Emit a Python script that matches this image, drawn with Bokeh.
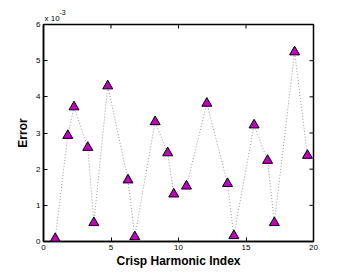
from bokeh.plotting import figure
from bokeh.models import LinearAxis, Range1d, FixedTicker, Title
from bokeh.embed import file_html
from bokeh.resources import INLINE

# Data (Error in units of 1e-3)
harmonic_index = [0.87, 1.8, 2.26, 3.28, 3.73, 4.76, 6.26, 6.76, 8.27, 9.2,
                  9.65, 10.59, 12.1, 13.63, 14.1, 15.6, 16.6, 17.1, 18.6, 19.55]
error_e3 = [0.08, 2.93, 3.72, 2.6, 0.52, 4.3, 1.7, 0.13, 3.31, 2.45,
            1.31, 1.53, 3.82, 1.6, 0.16, 3.22, 2.24, 0.52, 5.24, 2.38]
x_ticks = [0, 5, 10, 15, 20]
y_ticks = [0, 1, 2, 3, 4, 5, 6]
x_min, x_max = 0, 20
y_min, y_max = 0, 6

W, H = 331, 271
ML, MR, MT, MB = 43, 18, 24, 30
FW, FH = W - ML - MR, H - MT - MB

p = figure(width=W, height=H, output_backend="svg", toolbar_location=None,
           x_range=Range1d(x_min, x_max), y_range=Range1d(y_min, y_max),
           x_axis_location=None, y_axis_location=None,
           min_border_left=ML, min_border_top=MT, min_border_right=MR, min_border_bottom=MB)
p.grid.visible = False
p.outline_line_color = "black"
p.outline_line_width = 1.5
p.background_fill_color = "white"
p.border_fill_color = "white"

def style(ax):
    ax.major_tick_in = 4
    ax.major_tick_out = 0
    ax.minor_tick_line_color = None
    ax.axis_line_color = "black"
    ax.axis_line_width = 1.5
    ax.major_tick_line_color = "black"
    ax.major_label_text_font = "Liberation Sans"
    ax.major_label_text_font_size = "8px"
    ax.major_label_text_color = "black"
    ax.major_label_standoff = 3
    ax.axis_label_text_font = "Liberation Sans"
    ax.axis_label_text_font_style = "bold"
    ax.axis_label_text_font_size = "12px"
    ax.axis_label_text_color = "black"
    ax.axis_label_standoff = 1

xb = LinearAxis(ticker=FixedTicker(ticks=x_ticks), axis_label="Crisp Harmonic Index")
style(xb)
p.add_layout(xb, "below")
yl = LinearAxis(ticker=FixedTicker(ticks=y_ticks), axis_label="Error")
style(yl)
yl.axis_label_standoff = 3
p.add_layout(yl, "left")

# inward ticks on the top and right edges of the box (4 px long)
tlx = 4 * (x_max - x_min) / FW
tly = 4 * (y_max - y_min) / FH
p.segment(x0=x_ticks, x1=x_ticks, y0=[y_max] * len(x_ticks), y1=[y_max - tly] * len(x_ticks),
          line_color="black", line_width=1)
p.segment(x0=[x_max] * len(y_ticks), x1=[x_max - tlx] * len(y_ticks), y0=y_ticks, y1=y_ticks,
          line_color="black", line_width=1)

p.line(harmonic_index, error_e3, line_color="#9a9a9a", line_width=1, line_dash="1 2")
p.scatter(harmonic_index, error_e3, marker="triangle", size=10,
          fill_color="#c000c0", line_color="black", line_width=1)

# "x 10^-3" multiplier above the top-left corner
p.add_layout(Title(text="x 10", align="left", text_font="Liberation Sans",
                   text_font_size="8px", text_font_style="normal", text_color="black",
                   standoff=3, offset=1), "above")
p.add_layout(Title(text="-3", align="left", text_font="Liberation Sans",
                   text_font_size="7px", text_font_style="normal", text_color="black",
                   standoff=-8, offset=16), "above")

open("out.html", "w").write(file_html(p, INLINE))
